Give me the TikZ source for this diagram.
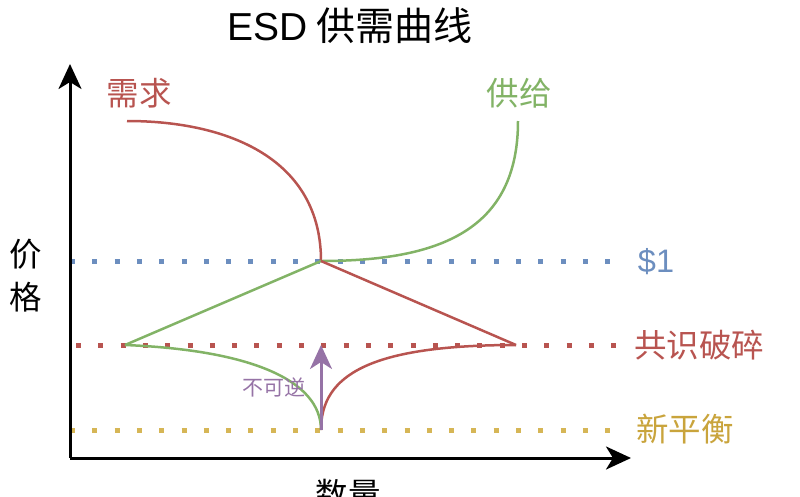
\documentclass[tikz,border=0pt]{standalone}
\usepackage{fontspec}
\setmainfont{Noto Sans CJK SC}
\newfontfamily\latinfont{Liberation Sans}
\usetikzlibrary{arrows.meta}
\definecolor{cred}{HTML}{B85450}
\definecolor{cgreen}{HTML}{82B366}
\definecolor{cblue}{HTML}{6C8EBF}
\definecolor{cyellow}{HTML}{D6B656}
\definecolor{cyeltext}{HTML}{C9A43C}
\definecolor{cpurple}{HTML}{9673A6}
\tikzset{
  axisline/.style={line width=3pt,-{Stealth[length=25pt,width=23pt,inset=7pt]}},
  dotline/.style={line width=5pt,dash pattern=on 5pt off 17.3pt},
  curveline/.style={line width=2.5pt},
  lbl/.style={inner sep=0pt,font=\fontsize{32.5}{37}\selectfont},
}
\begin{document}
\begin{tikzpicture}[x=1pt,y=-1pt]
\useasboundingbox (0,0) rectangle (800,496);
% coordinates
\coordinate (O) at (70,458);
\coordinate (Ytop) at (70,64);
\coordinate (Xend) at (631,458);
\coordinate (E) at (321,261);
\coordinate (Dstart) at (127,121);
\coordinate (Send) at (518,121);
\coordinate (L) at (125,345);
\coordinate (R) at (516,345);
\coordinate (B) at (321,430);
\coordinate (Atip) at (321,345);
\coordinate (b1) at (70,261);  \coordinate (b2) at (615,261);
\coordinate (r1) at (76,345);  \coordinate (r2) at (620,345);
\coordinate (y1) at (70,430);  \coordinate (y2) at (615,430);
% dotted levels
\draw[dotline,cblue] (b1) -- (b2);
\draw[dotline,cred] (r1) -- (r2);
\draw[dotline,cyellow] (y1) -- (y2);
% axes
\draw[axisline] (O) -- (Ytop);
\draw[axisline] (O) -- (Xend);
% curves
\draw[curveline,cred] (Dstart) .. controls (230,121) and (321,160) .. (E);
\draw[curveline,cgreen] (E) .. controls (440,261) and (518,230) .. (Send);
\draw[curveline,cgreen] (L) -- (E);
\draw[curveline,cred] (E) -- (R);
\draw[curveline,cgreen] (L) .. controls (250,350) and (321,380) .. (B);
\draw[curveline,cred] (B) .. controls (321,375) and (370,345) .. (R);
% arrow
\draw[cpurple,line width=3pt,-{Stealth[length=24pt,width=22pt,inset=7pt]}] (B) -- (Atip);
% texts
\node[inner sep=0pt,font=\fontsize{39}{44}\selectfont] (title) at (350,26) {{\latinfont ESD} 供需曲线};
\node[lbl,text=cred] (dem) at (139,93) {需求};
\node[lbl,text=cgreen] (sup) at (519,93) {供给};
\node[lbl,text=cblue] (one) at (656,262) {\latinfont\$1};
\node[lbl,text=cred] (brk) at (699,345) {共识破碎};
\node[lbl,text=cyeltext] (neq) at (685,429) {新平衡};
\node[lbl,text=black,align=center,font=\fontsize{32.5}{43}\selectfont] (price) at (26,276) {价\\格};
\node[lbl,text=black] (qty) at (348,494) {数量};
\node[inner sep=0pt,text=cpurple,font=\fontsize{21}{25}\selectfont] (irr) at (274,387) {不可逆};
\end{tikzpicture}
\end{document}
